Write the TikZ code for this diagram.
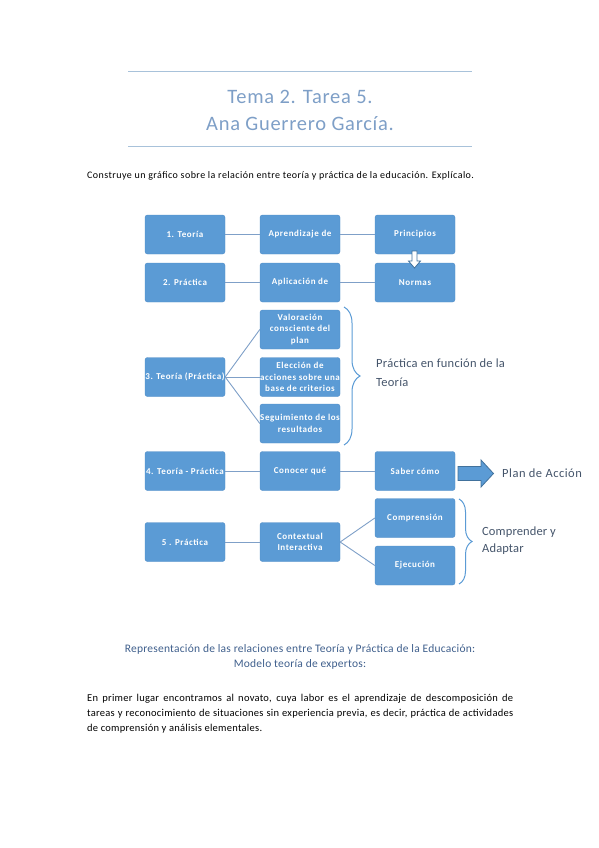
\documentclass[tikz,border=0pt]{standalone}
\usepackage{fontspec}
\setmainfont{Carlito}
\usetikzlibrary{decorations.pathreplacing}
\definecolor{boxblue}{HTML}{5B9BD5}
\definecolor{boxedge}{HTML}{4F8CC7}
\definecolor{linkc}{HTML}{7FA0C8}
\definecolor{rulec}{HTML}{A8C2DA}
\definecolor{titlec}{HTML}{7E9FC7}
\definecolor{sidec}{HTML}{44546A}
\definecolor{capc}{HTML}{3F5F8C}
\definecolor{arredge}{HTML}{41719C}
\newcommand{\ls}[1]{\addfontfeature{LetterSpace=#1}}
\begin{document}
\begin{tikzpicture}[x=1pt,y=-1pt,
  bx/.style={draw=boxedge, fill=boxblue, rounded corners=2.5pt, minimum width=80pt, minimum height=39pt,
    inner sep=0pt, align=center, text=white, font=\bfseries\fontsize{9}{11.5}\selectfont\ls{6.5}},
  link/.style={draw=linkc, line width=0.9pt},
  side/.style={text=sidec, font=\fontsize{12.5}{19}\selectfont\ls{2}, align=left, anchor=west, inner sep=0pt},
  brc/.style={draw=boxblue, line width=1pt, decorate, decoration={brace, amplitude=16pt, aspect=0.5}}
]
\useasboundingbox (0,0) rectangle (599,848);
% title block
\draw[rulec, line width=1pt] (128,72) coordinate (r1a) -- (472,72) coordinate (r1b);
\draw[rulec, line width=1pt] (128,146) coordinate (r2a) -- (472,146) coordinate (r2b);
\node[text=titlec, font=\fontsize{20.5}{27}\selectfont\ls{3.5}, align=center] (title) at (300,110) {Tema 2. Tarea 5.\\Ana Guerrero García.};
\node[font=\fontsize{10}{11}\selectfont\ls{4.5}, anchor=west, inner sep=0pt] (prompt) at (87,176) {Construye un gráfico sobre la relación entre teoría y práctica de la educación. Explícalo.};
% row 1
\node[bx] (t1) at (185,234.5) {1. Teoría};
\node[bx] (a1) at (300,234.5) {Aprendizaje de};
\node[bx] (p1) at (415,234.5) {Principios};
% row 2
\node[bx] (t2) at (185,282.5) {2. Práctica};
\node[bx] (a2) at (300,282.5) {Aplicación de};
\node[bx] (n2) at (415,282.5) {Normas};
% row 3
\node[bx] (t3) at (185,377) {3. Teoría (Práctica)};
\node[bx] (v3) at (300,329.5) {Valoración\\consciente del\\plan};
\node[bx] (e3) at (300,377) {Elección de\\acciones sobre una\\base de criterios};
\node[bx] (s3) at (300,423.5) {Seguimiento de los\\resultados};
% row 4
\node[bx] (t4) at (185,471) {4. Teoría - Práctica};
\node[bx] (c4) at (300,471) {Conocer qué};
\node[bx] (s4) at (415,471) {Saber cómo};
% row 5
\node[bx] (t5) at (185,542) {5 . Práctica};
\node[bx] (c5) at (300,542) {Contextual\\Interactiva};
\node[bx] (co5) at (415,518) {Comprensión};
\node[bx] (ej5) at (415,565.5) {Ejecución};
% connectors
\draw[link] (t1) -- (a1); \draw[link] (a1) -- (p1);
\draw[link] (t2) -- (a2); \draw[link] (a2) -- (n2);
\draw[link] (t3.east) -- (v3.west);
\draw[link] (t3.east) -- (e3.west);
\draw[link] (t3.east) -- (s3.west);
\draw[link] (t4) -- (c4); \draw[link] (c4) -- (s4);
\draw[link] (t5) -- (c5);
\draw[link] (c5.east) -- (co5.west);
\draw[link] (c5.east) -- (ej5.west);
% hollow down arrow
\draw[draw=arredge, fill=white, line width=0.8pt, line join=miter]
  (412,251) -- (417,251) -- (417,261) -- (420.5,261) -- (414.5,268) -- (408.5,261) -- (412,261) -- cycle;
% big right arrow
\draw[draw=arredge, fill=boxblue, line width=0.8pt]
  (458,466.5) -- (481,466.5) -- (481,460) -- (493.5,473.5) -- (481,487) -- (481,480.5) -- (458,480.5) -- cycle;
\node[side, font=\fontsize{12.5}{19}\selectfont\ls{4}] (plan) at (502,473.5) {Plan de Acción};
% braces
\draw[brc] (344,307) coordinate (b1a) -- (344,445) coordinate (b1b);
\node[side] (pf) at (376,373) {Práctica en función de la\\Teoría};
\draw[brc, decoration={brace, amplitude=13pt, aspect=0.5}] (459,499) coordinate (b2a) -- (459,584) coordinate (b2b);
\node[side, font=\fontsize{12.5}{17}\selectfont\ls{1}] (ca) at (482,540.5) {Comprender y\\Adaptar};
% caption
\node[text=capc, font=\fontsize{11.5}{15}\selectfont\ls{2}, align=center] (cap) at (300,656.5) {Representación de las relaciones entre Teoría y Práctica de la Educación:\\Modelo teoría de expertos:};
% paragraph
\node[font=\fontsize{10.5}{15}\selectfont\ls{2.5}, text width=426pt, align=justify, anchor=north west, inner sep=0pt] (par) at (87,694)
 {En primer lugar encontramos al novato, cuya labor es el aprendizaje de descomposición de\linebreak tareas y reconocimiento de situaciones sin experiencia previa, es decir, práctica de actividades\linebreak de comprensión y análisis elementales.};
\end{tikzpicture}
\end{document}
